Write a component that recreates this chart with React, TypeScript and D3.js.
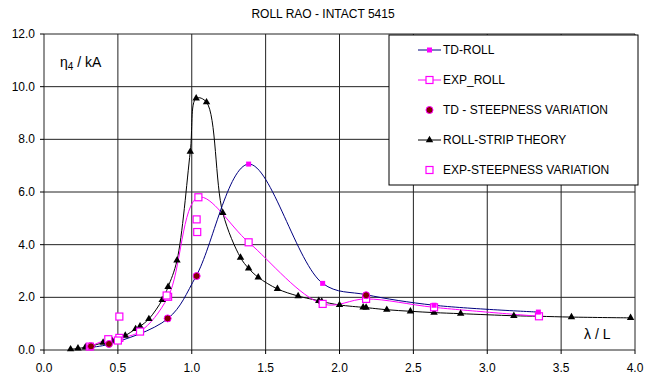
import React from "react";
import * as d3 from "d3";

// values  [lambda/L, eta4/kA]
const tdRoll = [
  [0.31, 0.1], [0.44, 0.22], [0.84, 1.2], [1.03, 2.81], [1.385, 7.06],
  [1.886, 2.53], [2.18, 2.1], [2.64, 1.7], [3.346, 1.44],
];
const expRoll = [
  [0.31, 0.13], [0.435, 0.41], [0.51, 0.46], [0.65, 0.7], [0.84, 2.02],
  [1.045, 5.8], [1.385, 4.09], [1.886, 1.75], [2.18, 1.94], [2.64, 1.62], [3.35, 1.28],
];
const tdSteep = [
  [0.318, 0.14], [0.44, 0.23], [0.837, 1.2], [1.033, 2.81], [2.18, 2.08],
];
const stripTheory = [
  [0.18, 0.03], [0.23, 0.06], [0.28, 0.1], [0.31, 0.13], [0.4, 0.28], [0.46, 0.36],
  [0.55, 0.55], [0.62, 0.8], [0.65, 0.9], [0.71, 1.18], [0.8, 1.9], [0.84, 2.4],
  [0.9, 3.4], [0.99, 7.53], [1.03, 9.56], [1.1, 9.41], [1.21, 5.21], [1.33, 3.51],
  [1.385, 3.1], [1.45, 2.76], [1.58, 2.32], [1.72, 2.05], [1.86, 1.87], [1.88, 1.84],
  [2.0, 1.71], [2.16, 1.62], [2.18, 1.61], [2.32, 1.53], [2.48, 1.47], [2.64, 1.42],
  [2.82, 1.38], [3.18, 1.3], [3.35, 1.28], [3.57, 1.25], [3.97, 1.22],
];
const expSteep = [
  [0.51, 1.27], [0.5, 0.36], [0.83, 2.07], [1.033, 4.96], [1.037, 4.48],
];
const xTicks = [0, 0.5, 1, 1.5, 2, 2.5, 3, 3.5, 4];
const yTicks = [0, 2, 4, 6, 8, 10, 12];

const legendItems = [
  "TD-ROLL",
  "EXP_ROLL",
  "TD - STEEPNESS VARIATION",
  "ROLL-STRIP THEORY",
  "EXP-STEEPNESS VARIATION",
];

const W = 646;
const H = 383;
const margin = { top: 34, right: 11, bottom: 33, left: 44 };
const font = "Liberation Sans, Arial, sans-serif";
const BLUE = "#000080";
const MAG = "#ff00ff";

const x = d3.scaleLinear().domain([0, 4]).range([margin.left, W - margin.right]);
const y = d3.scaleLinear().domain([0, 12]).range([H - margin.bottom, margin.top]);

const line = d3
  .line<number[]>()
  .x((d) => x(d[0]))
  .y((d) => y(d[1]))
  .curve(d3.curveCatmullRom.alpha(0.5));

const tri = d3.symbol().type(d3.symbolTriangle).size(24)();

const Marker = ({ kind, cx, cy }: { kind: number; cx: number; cy: number }) => {
  if (kind === 0)
    return <rect x={cx - 2.5} y={cy - 2.5} width={5} height={5} fill={MAG} />;
  if (kind === 1 || kind === 4)
    return (
      <rect x={cx - 3.5} y={cy - 3.5} width={7} height={7} fill="#fff" stroke={MAG} strokeWidth={1.2} />
    );
  if (kind === 2)
    return <circle cx={cx} cy={cy} r={3.5} fill="#800000" stroke={MAG} strokeWidth={1} />;
  return <path d={tri as string} transform={`translate(${cx},${cy})`} fill="#000" />;
};

export default function App() {
  const legX = 389;
  const legY = 35;
  return (
    <svg
      width={W}
      height={H}
      style={{ position: "absolute", left: 0, top: 0, background: "#fff" }}
      fontFamily={font}
    >
      <text x={W / 2} y={18} textAnchor="middle" fontSize={12}>
        ROLL RAO - INTACT 5415
      </text>

      {/* grid */}
      {yTicks.map((t) => (
        <line key={"gy" + t} x1={x(0)} x2={x(4)} y1={y(t)} y2={y(t)} stroke="#222" strokeWidth={1} />
      ))}
      {xTicks.map((t) => (
        <line key={"gx" + t} x1={x(t)} x2={x(t)} y1={y(0)} y2={y(12)} stroke="#222" strokeWidth={1} />
      ))}
      {/* ticks and labels */}
      {yTicks.map((t) => (
        <g key={"ty" + t}>
          <line x1={x(0) - 4} x2={x(0)} y1={y(t)} y2={y(t)} stroke="#000" />
          <text x={x(0) - 9} y={y(t) + 4} textAnchor="end" fontSize={12}>
            {t.toFixed(1)}
          </text>
        </g>
      ))}
      {xTicks.map((t) => (
        <g key={"tx" + t}>
          <line x1={x(t)} x2={x(t)} y1={y(0)} y2={y(0) + 4} stroke="#000" />
          <text x={x(t)} y={y(0) + 22} textAnchor="middle" fontSize={12}>
            {t.toFixed(1)}
          </text>
        </g>
      ))}

      <text x={60} y={67} fontSize={14}>
        η<tspan fontSize={10} dy={3}>4</tspan>
        <tspan dy={-3}> / kA</tspan>
      </text>
      <text x={584} y={339} fontSize={14}>
        λ / L
      </text>

      {/* series */}
      <path d={line(stripTheory) || ""} fill="none" stroke="#000" strokeWidth={1} />
      <path d={line(expRoll) || ""} fill="none" stroke={MAG} strokeWidth={1} />
      <path d={line(tdRoll) || ""} fill="none" stroke={BLUE} strokeWidth={1} />

      {stripTheory.map((d, i) => (
        <Marker key={"s" + i} kind={3} cx={x(d[0])} cy={y(d[1])} />
      ))}
      {expRoll.map((d, i) => (
        <Marker key={"e" + i} kind={1} cx={x(d[0])} cy={y(d[1])} />
      ))}
      {expSteep.map((d, i) => (
        <Marker key={"es" + i} kind={4} cx={x(d[0])} cy={y(d[1])} />
      ))}
      {tdRoll.map((d, i) => (
        <Marker key={"t" + i} kind={0} cx={x(d[0])} cy={y(d[1])} />
      ))}
      {tdSteep.map((d, i) => (
        <Marker key={"ts" + i} kind={2} cx={x(d[0])} cy={y(d[1])} />
      ))}

      {/* legend */}
      <rect x={legX} y={legY} width={249} height={150} fill="#fff" stroke="#000" strokeWidth={1} />
      {legendItems.map((name, i) => {
        const ly = legY + 15 + i * 30;
        const hasLine = i === 0 || i === 1 || i === 3;
        const col = i === 0 ? BLUE : i === 1 ? MAG : "#000";
        return (
          <g key={name}>
            {hasLine && <line x1={418} x2={441} y1={ly} y2={ly} stroke={col} strokeWidth={1} />}
            <Marker kind={i} cx={429.5} cy={ly} />
            <text x={443} y={ly + 4} fontSize={12}>
              {name}
            </text>
          </g>
        );
      })}
    </svg>
  );
}
